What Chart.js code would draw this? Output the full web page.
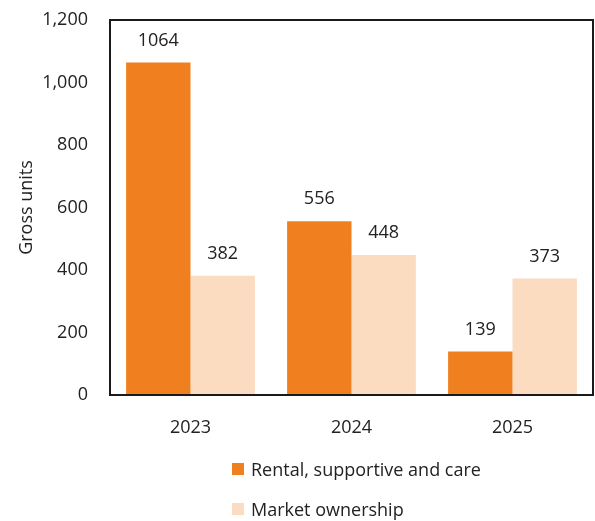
<!doctype html>
<html>

<head>
	<title>Gross units by year</title>
	<script src="https://cdn.jsdelivr.net/npm/chart.js@4/dist/chart.umd.min.js"></script>
	<style>
		body { margin: 0; background: #fff; }
		#holder { position: relative; width: 595px; height: 521px; }
		#legend { position: absolute; left: 232px; top: 449px; font-family: "Open Sans", sans-serif; font-size: 18px; color: #222; }
		#legend div { display: flex; align-items: center; height: 40px; }
		#legend span.box { display: inline-block; width: 12px; height: 12px; margin-right: 7px; }
	</style>
</head>

<body>
	<div id="holder">
		<canvas id="chart-area" width="595" height="521"></canvas>
		<div id="legend"></div>
	</div>
	<script>
		var years = ['2023', '2024', '2025'];
		var rentalUnits = [1064, 556, 139];
		var ownershipUnits = [382, 448, 373];
		var yTicks = [0, 200, 400, 600, 800, 1000, 1200];

		var orange = '#F0801F';
		var peach = '#FBDCC1';
		var font = '"Open Sans", sans-serif';

		// numbers above each bar
		var valueLabels = {
			id: 'valueLabels',
			afterDatasetsDraw: function(chart) {
				var ctx = chart.ctx;
				ctx.save();
				ctx.font = '18px ' + font;
				ctx.fillStyle = '#222';
				ctx.textAlign = 'center';
				ctx.textBaseline = 'middle';
				chart.data.datasets.forEach(function(ds, i) {
					chart.getDatasetMeta(i).data.forEach(function(bar, j) {
						ctx.fillText(String(ds.data[j]), bar.x, bar.y - 22);
					});
				});
				ctx.restore();
			}
		};

		// frame round the plot area
		var frame = {
			id: 'frame',
			afterDraw: function(chart) {
				var a = chart.chartArea;
				var ctx = chart.ctx;
				ctx.save();
				ctx.strokeStyle = '#1a1a1a';
				ctx.lineWidth = 2;
				ctx.strokeRect(a.left, a.top, a.right - a.left, a.bottom - a.top);
				ctx.restore();
			}
		};

		var config = {
			type: 'bar',
			data: {
				labels: years,
				datasets: [{
					label: 'Rental, supportive and care',
					data: rentalUnits,
					backgroundColor: orange
				}, {
					label: 'Market ownership',
					data: ownershipUnits,
					backgroundColor: peach
				}]
			},
			options: {
				responsive: false,
				animation: false,
				layout: { padding: { top: 20, right: 2, left: 0, bottom: 0 } },
				datasets: { bar: { categoryPercentage: 0.8, barPercentage: 1.0 } },
				plugins: {
					legend: { display: false },
					tooltip: { enabled: false }
				},
				scales: {
					x: {
						grid: { display: false, drawTicks: false },
						border: { display: false },
						ticks: { font: { family: font, size: 18 }, color: '#222', padding: 22 },
						afterFit: function(scale) { scale.height = 126; }
					},
					y: {
						min: 0,
						max: 1200,
						grid: { display: false, drawTicks: false },
						border: { display: false },
						afterBuildTicks: function(scale) {
							scale.ticks = yTicks.map(function(v) { return { value: v }; });
						},
						ticks: {
							font: { family: font, size: 18 },
							color: '#222',
							padding: 22,
							callback: function(v) { return v.toLocaleString('en-US'); }
						},
						title: {
							display: true,
							text: 'Gross units',
							font: { family: font, size: 18 },
							color: '#222',
							padding: { top: 16, bottom: 0 }
						},
						afterFit: function(scale) {
							scale.width = 110;
							scale.paddingTop = 0;
							scale.paddingBottom = 0;
						}
					}
				}
			},
			plugins: [valueLabels, frame]
		};

		window.onload = function() {
			var ctx = document.getElementById('chart-area').getContext('2d');
			window.myBar = new Chart(ctx, config);

			var legend = document.getElementById('legend');
			config.data.datasets.forEach(function(ds) {
				var row = document.createElement('div');
				var box = document.createElement('span');
				box.className = 'box';
				box.style.background = ds.backgroundColor;
				row.appendChild(box);
				row.appendChild(document.createTextNode(ds.label));
				legend.appendChild(row);
			});
		};
	</script>
</body>

</html>
